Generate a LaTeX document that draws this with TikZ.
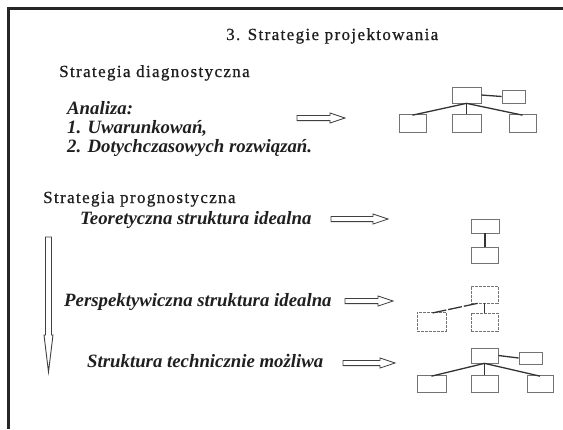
\documentclass[tikz,border=0pt]{standalone}
\usepackage{fontspec}
\setmainfont{Liberation Serif}
\newfontfamily\headfont[LetterSpace=8,FakeBold=0.8]{Liberation Serif}
\begin{document}
\begin{tikzpicture}[x=1pt,y=-1pt,
  ink/.style={black!88},
  heading/.style={ink, font=\headfont\fontsize{17}{19}\selectfont, inner sep=0pt, anchor=base west},
  item/.style={ink, font=\fontsize{18.8}{19}\selectfont\bfseries\itshape, inner sep=0pt, anchor=base west},
  treebox/.style={draw=black!55, line width=0.7pt, inner sep=0pt, minimum width=28pt, minimum height=17pt},
  sidebox/.style={treebox, minimum width=23pt, minimum height=13pt},
  planbox/.style={treebox, dash pattern=on 3pt off 1pt},
  branch/.style={draw=black!80, line width=1.3pt},
  arrowline/.style={draw=black!75, line width=0.8pt, fill=white},
  pics/fatarrow/.style={code={
    \draw[arrowline] (0,-2.6) -- (#1-15,-2.6) -- (#1-15,-5) -- (#1,0)
      -- (#1-15,5) -- (#1-15,2.6) -- (0,2.6) -- cycle;}}
]
\useasboundingbox (0,0) rectangle (563,429);

% frame
\draw[black!85, line width=2.4pt] (563,8.5) -- (8.5,8.5) -- (8.5,429);

% headings
\node[heading] (title) at (226,40) {3. Strategie projektowania};
\node[heading] (diag) at (59,77) {Strategia diagnostyczna};
\node[heading] (prog) at (43,203) {Strategia prognostyczna};

% diagnostic strategy
\node[item] (analiza) at (67,114) {Analiza:};
\node[item] (warunki) at (67,133) {1. Uwarunkowań,};
\node[item] (dotych) at (67,152) {2. Dotychczasowych rozwiązań.};

% prognostic strategy
\node[item] (teor) at (80,224) {Teoretyczna struktura idealna};
\node[item] (persp) at (64,306) {Perspektywiczna struktura idealna};
\node[item] (tech) at (87,367) {Struktura technicznie możliwa};

% hollow arrows
\pic at (297,118) {fatarrow=48};
\pic at (331,219) {fatarrow=57};
\pic at (345,301) {fatarrow=48};
\pic at (343,363) {fatarrow=52};

% vertical arrow
\draw[arrowline, line width=0.9pt] (45.5,237) -- (51.5,237) -- (51.5,335) -- (53,335)
  -- (48.5,372) -- (44,335) -- (45.5,335) -- cycle;

% tree 1
\node[treebox, minimum width=29pt, minimum height=16pt] (t1top) at (466.5,95) {};
\node[sidebox] (t1side) at (513.5,96.5) {};
\node[treebox, minimum width=27pt, minimum height=18pt] (t1l) at (412.5,123) {};
\node[treebox, minimum width=29pt, minimum height=18pt] (t1m) at (466.5,123) {};
\node[treebox, minimum width=27pt, minimum height=18pt] (t1r) at (522.5,123) {};
\draw[branch] (t1top.east) -- (t1side.west);
\draw[branch] (t1top.south) -- ([yshift=-1.5pt]t1l.north);
\draw[branch] (t1top.south) -- ([yshift=-1.5pt]t1r.north);
\draw[branch] (t1top.south) -- (t1m.north);

% tree 2
\node[treebox, minimum height=14pt] (t2top) at (485,226) {};
\node[treebox, minimum width=27pt, minimum height=16pt] (t2bot) at (484.5,255) {};
\draw[branch] (t2top.south) -- (t2top.south |- t2bot.north);

% tree 3
\node[planbox, minimum width=27pt] (t3top) at (484.5,294.5) {};
\node[planbox, minimum width=29pt, minimum height=19pt] (t3l) at (431.5,321.5) {};
\node[planbox, minimum width=27pt, minimum height=18pt] (t3r) at (484.5,322) {};
\draw[branch, dash pattern=on 14pt off 2pt] ([xshift=-7pt]t3top.south) -- ([yshift=-1.5pt]t3l.north);
\draw[branch] (t3top.south) -- (t3r.north);

% tree 4
\node[treebox, minimum width=27pt, minimum height=15pt] (t4top) at (484.5,355.5) {};
\node[sidebox, minimum height=12pt] (t4side) at (530.5,358) {};
\node[treebox, minimum width=29pt] (t4l) at (431.5,383.5) {};
\node[treebox, minimum width=27pt] (t4m) at (484.5,383.5) {};
\node[treebox, minimum width=26pt] (t4r) at (540,383.5) {};
\draw[branch] (t4top.east) -- (t4side.west);
\draw[branch] (t4top.south) -- ([yshift=-1.5pt]t4l.north);
\draw[branch] (t4top.south) -- ([yshift=-1.5pt]t4r.north);
\draw[branch] (t4top.south) -- (t4m.north);
\end{tikzpicture}
\end{document}
